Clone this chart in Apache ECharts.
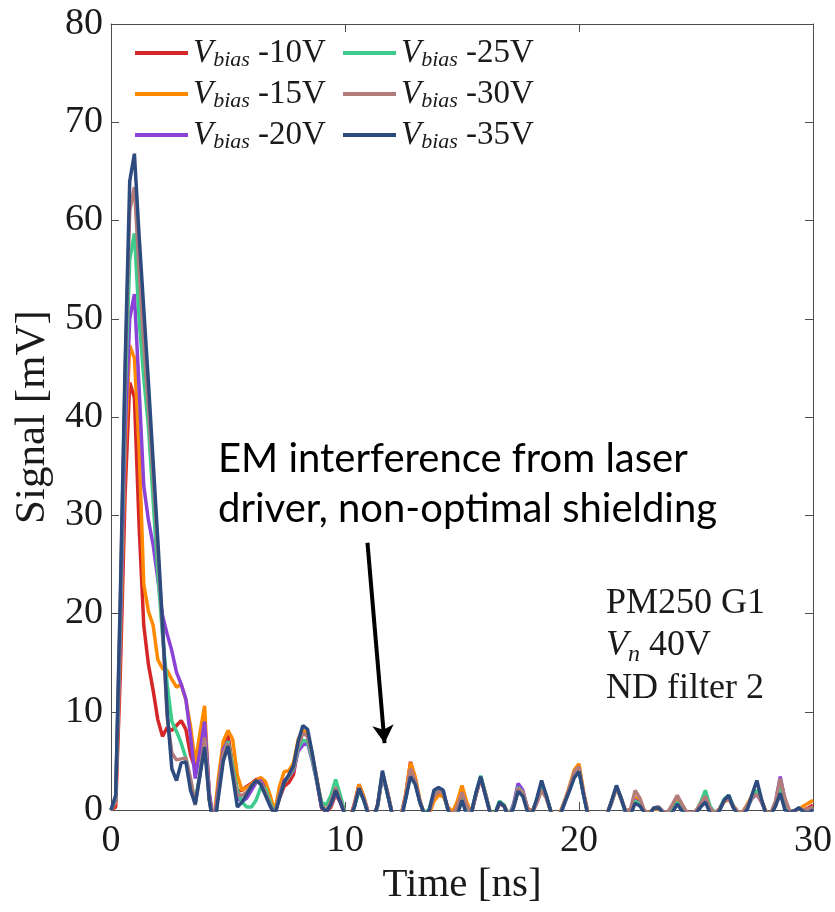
<!DOCTYPE html>
<html>
<head>
<meta charset="utf-8">
<script src="https://cdn.jsdelivr.net/npm/echarts/dist/echarts.min.js"></script>
<style>
  html, body { margin: 0; padding: 0; background: #fff; }
  #chart { width: 835px; height: 912px; }
</style>
</head>
<body>
<div id="chart"></div>
<script>
// Sample clock of the oscilloscope traces [ns]
const timeNs = [
  0, 0.2, 0.4, 0.6, 0.8, 1, 1.2, 1.4, 1.6, 1.8,
  2, 2.2, 2.4, 2.6, 2.8, 3, 3.2, 3.4, 3.6, 3.8,
  4, 4.2, 4.4, 4.6, 4.8, 5, 5.2, 5.4, 5.6, 5.8,
  6, 6.2, 6.4, 6.6, 6.8, 7, 7.2, 7.4, 7.6, 7.8,
  8, 8.2, 8.4, 8.6, 8.8, 9, 9.2, 9.4, 9.6, 9.8,
  10, 10.2, 10.4, 10.6, 10.8, 11, 11.2, 11.4, 11.6, 11.8,
  12, 12.2, 12.4, 12.6, 12.8, 13, 13.2, 13.4, 13.6, 13.8,
  14, 14.2, 14.4, 14.6, 14.8, 15, 15.2, 15.4, 15.6, 15.8,
  16, 16.2, 16.4, 16.6, 16.8, 17, 17.2, 17.4, 17.6, 17.8,
  18, 18.2, 18.4, 18.6, 18.8, 19, 19.2, 19.4, 19.6, 19.8,
  20, 20.2, 20.4, 20.6, 20.8, 21, 21.2, 21.4, 21.6, 21.8,
  22, 22.2, 22.4, 22.6, 22.8, 23, 23.2, 23.4, 23.6, 23.8,
  24, 24.2, 24.4, 24.6, 24.8, 25, 25.2, 25.4, 25.6, 25.8,
  26, 26.2, 26.4, 26.6, 26.8, 27, 27.2, 27.4, 27.6, 27.8,
  28, 28.2, 28.4, 28.6, 28.8, 29, 29.2, 29.4, 29.6, 29.8,
  30
];

// Signal [mV] per bias voltage (values below 0 are clipped by the axis)
const sigBias10 = [
  0, 0.3, 14, 32, 43.5, 42, 29, 18.8, 14.8, 12.2,
  9.2, 7.5, 8.4, 8.1, 8.6, 9.1, 8.2, 5.6, 4.2, 6.0,
  8.8, 1.5, -1.5, 2.5, 6.0, 7.6, 4.5, 1.9, 2.0, 2.4,
  2.7, 3.1, 3.2, 2.2, 0.6, -0.3, 1.2, 2.4, 2.8, 3.6,
  6.5, 8.0, 7.6, 5.5, 3.0, 0.2, -0.2, 0.3, 1.6, 0.8,
  -0.5, -0.8, 0.6, 2.6, 1.3, -0.3, -1, 0.5, 3.6, 1.9,
  -0.2, -1, -0.6, 1.6, 4.9, 3.2, 0.9, -0.5, -0.2, 1.3,
  1.8, 1.6, 0.2, -0.5, 0.5, 1.9, 0.5, -0.3, 1.6, 3.3,
  1.6, -0.2, -0.5, 0.7, 0.4, -0.6, 0.4, 2.1, 1.8, 0.2,
  -0.2, 0.9, 2.6, 1.4, -0.2, -0.8, -0.3, 0.9, 2.3, 3.8,
  4.3, 1.6, -0.6, -1.1, -1.3, -0.8, -0.4, 0.9, 2.3, 1.1,
  -0.2, -0.3, 1.1, 0.8, -0.2, -0.4, 0.2, 0.2, -0.2, -0.4,
  0.2, 0.9, 0.3, -0.3, -0.4, -0.1, 0.6, 1.2, 0.1, -0.3,
  0.1, 0.9, 1.2, 0.3, -0.3, -0.2, 0.5, 1.4, 1.8, 0.9,
  -0.3, -0.4, 0.6, 2.6, 0.6, -0.2, -0.1, 0.2, 0.0, 0.2,
  0.5
];
const sigBias15 = [
  0, 0.8, 17, 36, 47.3, 46, 37, 23, 20.2, 18.8,
  15.3, 14.4, 14.2, 13.3, 12.5, 12.8, 11.2, 8.5, 4.8, 7.8,
  10.6, 1.0, -1, 3.5, 7.0, 8.1, 7.2, 3.5, 2.0, 2.3,
  2.6, 3.0, 3.3, 2.9, 1.5, -0.2, 2.4, 3.9, 4.0, 4.8,
  7.2, 8.1, 7.8, 5.6, 3.1, 0.6, -0.1, 0.4, 1.8, 0.8,
  -0.4, -0.8, 0.5, 2.6, 1.4, -0.4, -1, 0.6, 3.7, 2.0,
  -0.2, -1, -0.5, 1.7, 4.8, 3.4, 1.0, -0.6, -0.4, 0.9,
  1.5, 1.4, 0.3, -0.2, 0.9, 2.5, 0.8, -0.3, 1.6, 3.2,
  1.7, -0.2, -0.4, 0.6, 0.5, -0.5, 0.3, 2.0, 1.7, 0.2,
  -0.2, 1.0, 2.5, 1.3, -0.1, -0.7, -0.2, 1.0, 2.5, 4.1,
  4.7, 1.8, -0.5, -1.0, -1.2, -0.8, -0.3, 0.9, 2.3, 1.2,
  -0.2, -0.2, 1.3, 0.9, -0.1, -0.3, 0.1, 0.1, -0.2, -0.3,
  0.3, 1.1, 0.4, -0.3, -0.4, -0.1, 0.5, 1.1, 0.1, -0.3,
  0.1, 0.8, 1.1, 0.4, -0.2, -0.2, 0.6, 1.5, 2.0, 1.0,
  -0.2, -0.4, 0.5, 2.4, 0.7, -0.2, -0.1, 0.1, 0.4, 0.7,
  1.0
];
const sigBias20 = [
  0, 1.0, 18, 38, 50, 52.5, 43, 33, 29.5, 27,
  23.5, 19.8, 17.9, 16.2, 14, 12.8, 11.3, 7.5, 3.2, 6.0,
  9.0, 1.8, -1.5, 2.5, 6.2, 7.0, 4.2, 1.2, 0.9, 1.2,
  2.0, 2.8, 3.0, 2.0, 0.6, -0.4, 1.5, 3.0, 3.4, 4.0,
  6.0, 6.6, 6.8, 5.0, 2.8, 0.3, -0.2, 0.5, 1.8, 0.8,
  -0.4, -0.9, 0.4, 2.2, 1.2, -0.4, -1, 0.5, 3.5, 1.8,
  -0.2, -1, -0.6, 1.3, 4.0, 2.9, 0.8, -0.5, -0.1, 1.6,
  2.0, 1.8, 0.1, -0.6, 0.3, 1.6, 0.2, -0.3, 1.6, 3.3,
  1.6, -0.3, -0.5, 0.7, 0.4, -0.6, 0.6, 2.7, 2.0, 0.1,
  -0.3, 1.0, 2.6, 1.4, -0.2, -0.9, -0.4, 0.8, 2.1, 3.6,
  4.1, 1.5, -0.6, -1.1, -1.3, -0.9, -0.4, 0.8, 2.4, 1.2,
  -0.3, -0.4, 1.0, 0.7, -0.2, -0.4, 0.2, 0.3, -0.2, -0.4,
  0.0, 0.8, 0.2, -0.4, -0.4, -0.2, 0.4, 1.0, 0.0, -0.4,
  0.0, 0.9, 1.2, 0.3, -0.3, -0.4, 0.3, 1.2, 1.6, 0.8,
  -0.3, -0.4, 0.8, 3.4, 1.0, -0.2, -0.1, 0.2, -0.1, -0.2,
  0.1
];
const sigBias25 = [
  0, 1.2, 20, 42, 56, 58.7, 50, 44, 39, 31.5,
  24.2, 17.8, 12.8, 9.0, 8.0, 6.8, 5.3, 3.0, 0.8, 3.8,
  7.0, 1.2, -1.8, 1.8, 5.6, 7.0, 4.5, 2.0, 0.8, 0.3,
  0.3, 1.0, 2.3, 2.2, 0.8, -0.4, 1.4, 2.8, 3.4, 4.2,
  6.3, 7.1, 7.0, 5.2, 2.9, 0.8, 0.5, 1.5, 3.1, 1.5,
  -0.3, -0.8, 0.3, 2.0, 1.0, -0.4, -1, 0.4, 3.7, 1.8,
  -0.2, -0.8, -0.5, 1.2, 3.8, 2.8, 0.8, -0.4, 0.1, 1.7,
  2.1, 1.8, 0.0, -0.7, 0.2, 1.6, 0.2, -0.2, 1.7, 3.5,
  1.7, -0.2, -0.4, 0.9, 0.5, -0.6, 0.4, 2.3, 1.8, 0.0,
  -0.3, 1.0, 2.6, 1.5, -0.2, -0.9, -0.4, 0.9, 2.2, 3.7,
  4.1, 1.5, -0.6, -1.1, -1.3, -0.9, -0.4, 0.8, 2.3, 1.2,
  -0.3, -0.4, 0.9, 0.6, -0.2, -0.4, 0.2, 0.3, -0.3, -0.4,
  0.0, 0.8, 0.1, -0.4, -0.4, -0.2, 0.8, 2.0, 0.4, -0.3,
  0.1, 1.1, 1.5, 0.4, -0.3, -0.4, 0.3, 1.3, 2.0, 0.9,
  -0.3, -0.4, 0.7, 2.4, 0.6, -0.2, -0.1, 0.2, -0.1, 0.0,
  0.3
];
const sigBias30 = [
  0, 1.4, 21, 44, 61, 63.4, 55, 47.5, 41, 34,
  26.5, 18.5, 9.5, 5.8, 5.1, 5.2, 5.3, 3.2, 0.5, 3.6,
  7.4, 1.2, -1.8, 2.0, 5.8, 6.8, 4.0, 1.5, 1.5, 1.8,
  2.5, 2.9, 2.8, 1.8, 0.5, -0.4, 1.4, 2.8, 3.5, 4.3,
  6.6, 7.8, 7.5, 5.5, 3.1, 0.5, -0.1, 0.9, 2.3, 1.0,
  -0.4, -0.9, 0.4, 2.3, 1.2, -0.4, -1, 0.5, 3.8, 2.0,
  -0.2, -1, -0.5, 1.5, 4.2, 3.0, 0.8, -0.5, -0.1, 1.4,
  1.9, 1.7, 0.1, -0.6, 0.4, 1.8, 0.4, -0.3, 1.6, 3.3,
  1.6, -0.3, -0.5, 0.7, 0.4, -0.7, 0.3, 2.2, 1.8, 0.1,
  -0.3, 0.7, 2.0, 1.2, -0.2, -0.8, -0.3, 1.0, 2.3, 3.9,
  4.4, 1.7, -0.5, -1.0, -1.2, -0.8, -0.4, 0.8, 2.3, 1.2,
  -0.1, 0.1, 2.0, 1.2, -0.1, -0.3, 0.2, 0.3, -0.2, -0.2,
  0.6, 1.5, 0.6, -0.2, -0.3, -0.1, 0.7, 1.4, 0.2, -0.3,
  0.1, 0.9, 1.2, 0.4, -0.2, -0.2, 0.5, 1.3, 1.6, 0.8,
  -0.2, -0.3, 0.9, 3.2, 1.2, -0.1, -0.1, 0.2, 0.0, 0.1,
  0.3
];
const sigBias35 = [
  0, 1.5, 22, 45, 64, 66.8, 58.5, 51, 43.5, 35.5,
  27.5, 19, 10, 4.2, 3.0, 4.8, 4.9, 2.0, 0.6, 3.5,
  6.4, 1.0, -2, 1.5, 5, 6.5, 3.5, 0.3, 0.8, 1.6,
  2.4, 3.0, 2.6, 1.5, 0.4, -0.5, 1.2, 2.8, 3.6, 4.5,
  7.0, 8.6, 8.2, 5.8, 3.0, 0.3, -0.2, 0.6, 2.0, 0.8,
  -0.5, -1, 0.3, 2.2, 1.0, -0.5, -1, 0.6, 4.0, 1.8,
  -0.3, -1, -1, 1.2, 3.4, 2.6, 0.8, -0.5, 0, 2.0,
  2.3, 2.0, 0, -1, -0.5, 1.0, -0.5, -0.3, 1.8, 3.4,
  1.5, -0.3, -0.5, 0.8, 0.4, -0.8, 0.2, 1.9, 1.4, -0.2,
  -0.3, 1.2, 3.0, 1.5, -0.2, -1, -0.5, 0.8, 2.0, 3.3,
  3.9, 1.5, -0.8, -1.2, -1.5, -1, -0.5, 1.0, 2.5, 1.2,
  -0.3, -0.5, 0.7, 0.4, -0.3, -0.5, 0.2, 0.2, -0.3, -0.5,
  -0.2, 0.6, -0.1, -0.5, -0.5, -0.3, 0.3, 0.8, -0.3, -0.5,
  -0.1, 1.0, 1.5, 0.2, -0.5, -0.5, 0.1, 1.6, 3.0, 1.1,
  -0.5, -0.5, 0.4, 1.7, 0.0, -0.3, -0.1, 0.2, -0.2, -0.3,
  0.0
];

const biasLabels = ['-10V', '-15V', '-20V', '-25V', '-30V', '-35V'];
const biasSignals = [sigBias10, sigBias15, sigBias20, sigBias25, sigBias30, sigBias35];
const biasColors = ['#D62728', '#FF8A00', '#8A43D6', '#3DCB8B', '#B27C7A', '#2D4B7E'];

// Axis ticks
const xTicks = { min: 0, max: 30, interval: 10 };
const yTicks = { min: 0, max: 80, interval: 10 };

// Arrow pointing at the interference ripple, in data units [ns, mV]
const arrowFrom = [10.96, 27.2];
const arrowTo = [11.69, 6.8];

const serif = 'Liberation Serif';
const inkColor = '#1a1a1a';
const frameColor = '#4d4d4d';

const series = biasLabels.map((label, k) => ({
  name: label,
  type: 'line',
  data: timeNs.map((t, i) => [t, biasSignals[k][i]]),
  showSymbol: false,
  symbol: 'none',
  clip: true,
  lineStyle: { width: 3.5, color: biasColors[k] },
  itemStyle: { color: biasColors[k] },
  z: 2 + k
}));

series[series.length - 1].markLine = {
  silent: true,
  symbol: ['none', 'arrow'],
  symbolSize: [16, 18],
  label: { show: false },
  lineStyle: { color: '#000', width: 4, type: 'solid' },
  data: [[{ coord: arrowFrom }, { coord: arrowTo }]],
  animation: false
};

const legendRich = {
  v: { fontFamily: serif, fontStyle: 'italic', fontSize: 33, color: inkColor, lineHeight: 36, verticalAlign: 'middle' },
  s: { fontFamily: serif, fontStyle: 'italic', fontSize: 22, color: inkColor, lineHeight: 16, verticalAlign: 'bottom' },
  t: { fontFamily: serif, fontSize: 33, color: inkColor, lineHeight: 36, verticalAlign: 'middle' }
};
function legendBlock(names, left) {
  return {
    data: names,
    orient: 'vertical',
    left: left,
    top: 30,
    itemWidth: 53,
    itemHeight: 4,
    itemGap: 5,
    icon: 'rect',
    selectedMode: false,
    formatter: name => '{v|V}{s|bias}{t| ' + name + '}',
    textStyle: { rich: legendRich, lineHeight: 36 }
  };
}

const axisBase = {
  type: 'value',
  splitLine: { show: false },
  axisLine: { show: true, onZero: false, lineStyle: { color: frameColor, width: 1 } },
  axisTick: { show: true, inside: true, length: 8, lineStyle: { color: frameColor, width: 1 } }
};

const option = {
  backgroundColor: '#ffffff',
  animation: false,
  grid: { left: 111, right: 18, top: 24, bottom: 102 },
  legend: [legendBlock(biasLabels.slice(0, 3), 130), legendBlock(biasLabels.slice(3), 338)],
  xAxis: [
    Object.assign({}, axisBase, xTicks, {
      position: 'bottom',
      name: 'Time [ns]',
      nameLocation: 'middle',
      nameGap: 55,
      nameTextStyle: { fontFamily: serif, fontSize: 41, color: inkColor },
      axisLabel: { fontFamily: serif, fontSize: 38, color: inkColor, margin: 12 }
    }),
    Object.assign({}, axisBase, xTicks, {
      position: 'top',
      axisLabel: { show: false }
    })
  ],
  yAxis: [
    Object.assign({}, axisBase, yTicks, {
      position: 'left',
      name: 'Signal [mV]',
      nameLocation: 'middle',
      nameRotate: 90,
      nameGap: 47,
      nameTextStyle: { fontFamily: serif, fontSize: 43, color: inkColor },
      axisLabel: { fontFamily: serif, fontSize: 38, color: inkColor, margin: 8 }
    }),
    Object.assign({}, axisBase, yTicks, {
      position: 'right',
      axisLabel: { show: false }
    })
  ],
  graphic: [
    {
      type: 'text',
      left: 218,
      top: 434,
      silent: true,
      style: {
        text: 'EM interference from laser\ndriver, non-optimal shielding',
        fontFamily: 'Lato',
        fontSize: 40,
        lineHeight: 50,
        fill: '#000'
      }
    },
    {
      type: 'text',
      left: 606,
      top: 582,
      silent: true,
      style: {
        text: 'PM250 G1\n{i|V}{sub|n}{r| 40V}\nND filter 2',
        fontFamily: serif,
        fontSize: 36,
        lineHeight: 42.5,
        fill: inkColor,
        rich: {
          i: { fontFamily: serif, fontStyle: 'italic', fontSize: 36, lineHeight: 42.5, verticalAlign: 'middle', fill: inkColor },
          sub: { fontFamily: serif, fontStyle: 'italic', fontSize: 24, lineHeight: 20, verticalAlign: 'bottom', fill: inkColor },
          r: { fontFamily: serif, fontSize: 36, lineHeight: 42.5, verticalAlign: 'middle', fill: inkColor }
        }
      }
    }
  ],
  series: series
};

const chart = echarts.init(document.getElementById('chart'), null, { renderer: 'canvas' });
chart.setOption(option);
</script>
</body>
</html>
